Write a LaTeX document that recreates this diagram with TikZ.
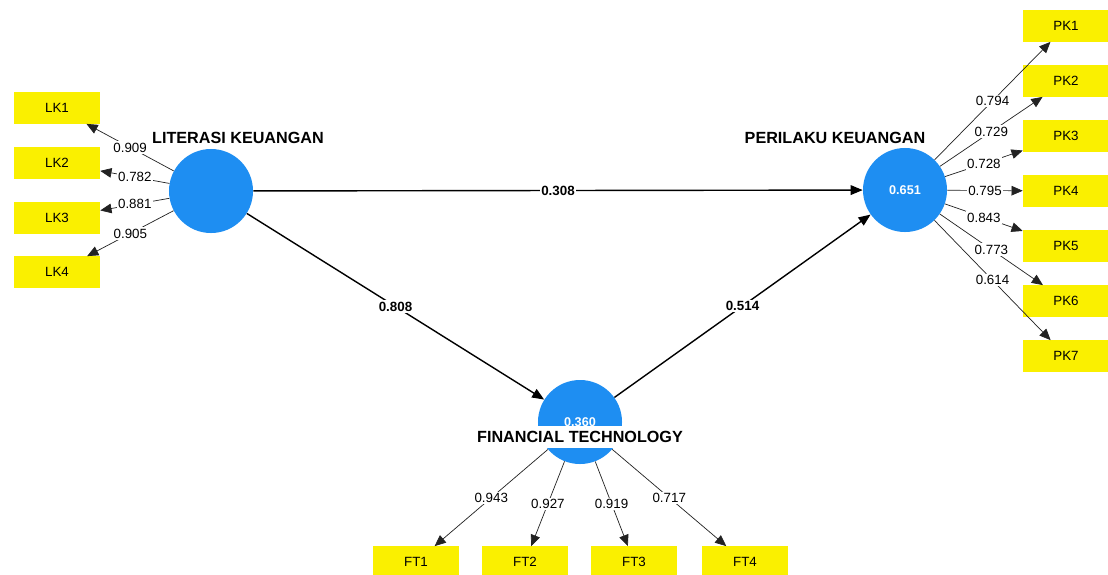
\documentclass[tikz,border=0pt]{standalone}
\usepackage{fontspec}
\setmainfont{Liberation Sans}
\usepackage{tikz}
\usetikzlibrary{arrows.meta,positioning}
\definecolor{LatentBlue}{HTML}{1E8EF2}
\definecolor{IndicatorYellow}{HTML}{FAF000}
\definecolor{LoadGray}{HTML}{222222}

\begin{document}
\begin{tikzpicture}[x=0.025cm, y=-0.025cm,
    latent/.style={circle, fill=LatentBlue, minimum size=2.1cm, inner sep=0pt, text=white, font=\fontsize{9}{10}\selectfont\bfseries},
    indicator/.style={fill=IndicatorYellow, minimum width=2.15cm, minimum height=0.78cm, inner sep=0pt, font=\fontsize{9.5}{10}\selectfont},
    lvname/.style={font=\fontsize{11.5}{13}\selectfont\bfseries},
    coefarr/.style={-{Triangle[length=3mm,width=2.4mm]}, line width=1pt},
    loadarr/.style={-{Triangle[length=2.8mm,width=2.4mm]}, line width=0.5pt, draw=LoadGray},
    coef/.style={fill=white, inner sep=1pt, font=\fontsize{9.5}{10}\selectfont\bfseries},
    load/.style={fill=white, inner sep=1pt, font=\fontsize{9.5}{10}\selectfont}
  ]
    \useasboundingbox[fill=white] (0,0) rectangle (1108,574);

    % latent variables
    \node[latent] (lk) at (211, 191) {};
    \node[latent] (pk) at (905, 190) {0.651};
    \node[latent] (ft) at (580, 422) {0.360};

    % indicators
    \node[indicator] (lk1) at (57, 108) {LK1};
    \node[indicator] (lk2) at (57, 163) {LK2};
    \node[indicator] (lk3) at (57, 218) {LK3};
    \node[indicator] (lk4) at (57, 272) {LK4};

    \node[indicator] (pk1) at (1066, 26) {PK1};
    \node[indicator] (pk2) at (1066, 81) {PK2};
    \node[indicator] (pk3) at (1066, 136) {PK3};
    \node[indicator] (pk4) at (1066, 191) {PK4};
    \node[indicator] (pk5) at (1066, 246) {PK5};
    \node[indicator] (pk6) at (1066, 301) {PK6};
    \node[indicator] (pk7) at (1066, 356) {PK7};

    \node[indicator] (ft1) at (416, 562) {FT1};
    \node[indicator] (ft2) at (525, 562) {FT2};
    \node[indicator] (ft3) at (634, 562) {FT3};
    \node[indicator] (ft4) at (745, 562) {FT4};

    % structural paths
    \draw[coefarr] (lk) -- node[coef] {0.308} (pk);
    \draw[coefarr] (lk) -- node[coef] {0.808} (ft);
    \draw[coefarr] (ft) -- node[coef] {0.514} (pk);

    % outer loadings
    \draw[loadarr] (lk) -- node[load] {0.909} (lk1);
    \draw[loadarr] (lk) -- node[load] {0.782} (lk2);
    \draw[loadarr] (lk) -- node[load] {0.881} (lk3);
    \draw[loadarr] (lk) -- node[load] {0.905} (lk4);

    \draw[loadarr] (pk) -- node[load] {0.794} (pk1);
    \draw[loadarr] (pk) -- node[load] {0.729} (pk2);
    \draw[loadarr] (pk) -- node[load] {0.728} (pk3);
    \draw[loadarr] (pk) -- node[load] {0.795} (pk4);
    \draw[loadarr] (pk) -- node[load] {0.843} (pk5);
    \draw[loadarr] (pk) -- node[load] {0.773} (pk6);
    \draw[loadarr] (pk) -- node[load] {0.614} (pk7);

    \draw[loadarr] (ft) -- node[load] {0.943} (ft1);
    \draw[loadarr] (ft) -- node[load] {0.927} (ft2);
    \draw[loadarr] (ft) -- node[load] {0.919} (ft3);
    \draw[loadarr] (ft) -- node[load] {0.717} (ft4);

    % variable names
    \node[lvname] (lkname) at (238, 138) {LITERASI KEUANGAN};
    \node[lvname] (pkname) at (835, 138) {PERILAKU KEUANGAN};
    \node[lvname, fill=white, inner xsep=2pt, inner ysep=3.5pt] (ftname) at (580, 437) {FINANCIAL TECHNOLOGY};
  \end{tikzpicture}
\end{document}
